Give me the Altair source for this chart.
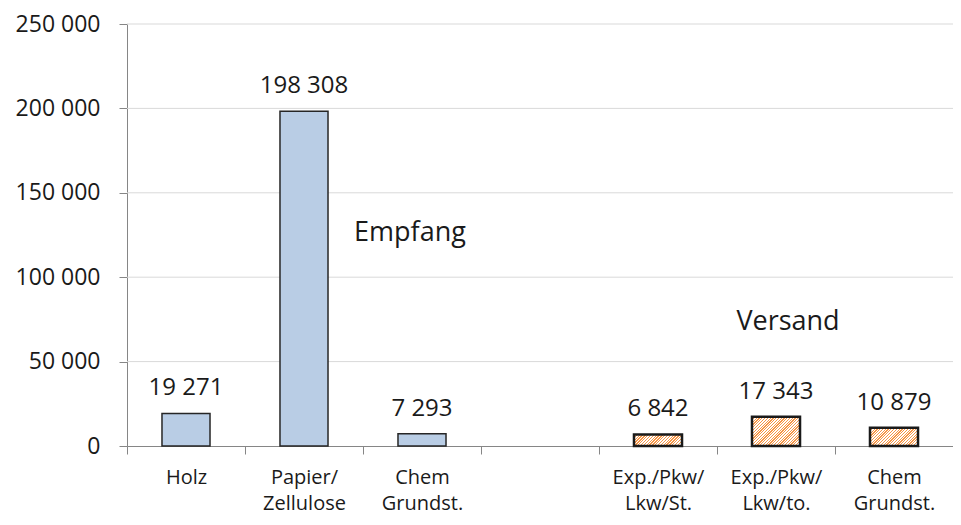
import altair as alt
import pandas as pd

# ---- data ----
categories = ["Holz", "Papier/|Zellulose", "Chem|Grundst.", " ",
              "Exp./Pkw/|Lkw/St.", "Exp./Pkw/|Lkw/to.", "Chem |Grundst."]
values = [19271, 198308, 7293, None, 6842, 17343, 10879]
groups = ["Empfang", "Empfang", "Empfang", None, "Versand", "Versand", "Versand"]
y_ticks = [0, 50000, 100000, 150000, 200000, 250000]
annot_text = ["Empfang", "Versand"]
annot_cat = ["Chem|Grundst.", "Exp./Pkw/|Lkw/to."]
annot_y = [121500, 69000]

# ---- style ----
PLOT_W, PLOT_H = 826, 422
Y_MAX = 250000
BAR_FRAC = 0.407
BLUE = "#b9cde5"
ORANGE = "#f79646"
TXT = "#1a1a1a"
AXIS_GRAY = "#868686"
FONT = "Open Sans"

rows = [dict(cat=c, value=v, group=g)
        for c, v, g in zip(categories, values, groups) if v is not None]
df = pd.DataFrame(rows)
ann = pd.DataFrame(dict(text=annot_text, cat=annot_cat, value=annot_y))
grid_df = pd.DataFrame(dict(value=y_ticks[1:]))

fmt = "replace(format(datum.value, ','), regexp(',', 'g'), ' ')"

x_enc = alt.X(
    "cat:N",
    scale=alt.Scale(domain=categories, paddingInner=0, paddingOuter=0),
    axis=alt.Axis(
        title=None, labelAngle=0, grid=False, tickBand="extent",
        labelExpr="split(datum.label, '|')",
        domainColor=AXIS_GRAY, tickColor=AXIS_GRAY, tickSize=8,
        labelPadding=13, labelFontSize=20, labelLineHeight=26,
        labelFont=FONT, labelColor=TXT,
    ),
)
y_enc = alt.Y(
    "value:Q",
    scale=alt.Scale(domain=[0, Y_MAX], nice=False),
    axis=alt.Axis(
        title=None, values=y_ticks, labelExpr=fmt, grid=False,
        domainColor=AXIS_GRAY, tickColor=AXIS_GRAY,
        tickSize=8, labelPadding=19, labelFontSize=23, labelFont=FONT,
        labelColor=TXT,
    ),
)

grid = alt.Chart(grid_df).mark_rule(color="#d9d9d9", strokeWidth=1).encode(y=y_enc)

base = alt.Chart(df)

blue_bars = base.transform_filter(alt.datum.group == "Empfang").mark_bar(
    fill=BLUE, stroke="#262626", strokeWidth=1.5,
    width=alt.RelativeBandSize(BAR_FRAC),
).encode(x=x_enc, y=y_enc)


def hatch(value):
    h = value / Y_MAX * PLOT_H
    w = BAR_FRAC * PLOT_W / len(categories)
    k = (w + h) / (w * w + h * h)
    n = max(1, round((w + h) / 2.8))
    stops = []
    for i in range(n):
        a, b, c = i / n, (i + 0.45) / n, (i + 1) / n
        stops += [
            alt.GradientStop(offset=a, color=ORANGE),
            alt.GradientStop(offset=b, color=ORANGE),
            alt.GradientStop(offset=b, color="white"),
            alt.GradientStop(offset=c, color="white"),
        ]
    return alt.LinearGradient(gradient="linear", stops=stops,
                              x1=0, y1=0, x2=k * w, y2=k * h)


hatch_layers = []
for c, v, g in zip(categories, values, groups):
    if g != "Versand":
        continue
    hatch_layers.append(
        base.transform_filter(alt.datum.cat == c).mark_bar(
            fill=hatch(v), stroke="#1a1a1a", strokeWidth=2.5,
            width=alt.RelativeBandSize(BAR_FRAC),
        ).encode(x=x_enc, y=y_enc)
    )

labels = base.transform_calculate(
    lbl="replace(format(datum.value, ','), regexp(',', 'g'), ' ')"
).mark_text(
    dy=-18, baseline="alphabetic", fontSize=24, font=FONT, color=TXT
).encode(x=x_enc, y=y_enc, text="lbl:N")

ann_empf = alt.Chart(ann).transform_filter(alt.datum.text == "Empfang").mark_text(
    baseline="alphabetic", fontSize=27, font=FONT, color=TXT, dx=-12
).encode(x=x_enc, y=y_enc, text="text:N")
ann_vers = alt.Chart(ann).transform_filter(alt.datum.text == "Versand").mark_text(
    baseline="alphabetic", fontSize=27, font=FONT, color=TXT, dx=12
).encode(x=x_enc, y=y_enc, text="text:N")

chart = alt.layer(grid, blue_bars, *hatch_layers, labels, ann_empf, ann_vers).properties(
    width=PLOT_W, height=PLOT_H,
    autosize=alt.AutoSizeParams(type="none"),
    padding={"left": 119, "top": 16, "right": 0, "bottom": 68},
    background="white",
).configure_view(stroke=None)

chart.save("out.html", embed_options={"renderer": "svg", "actions": False})
